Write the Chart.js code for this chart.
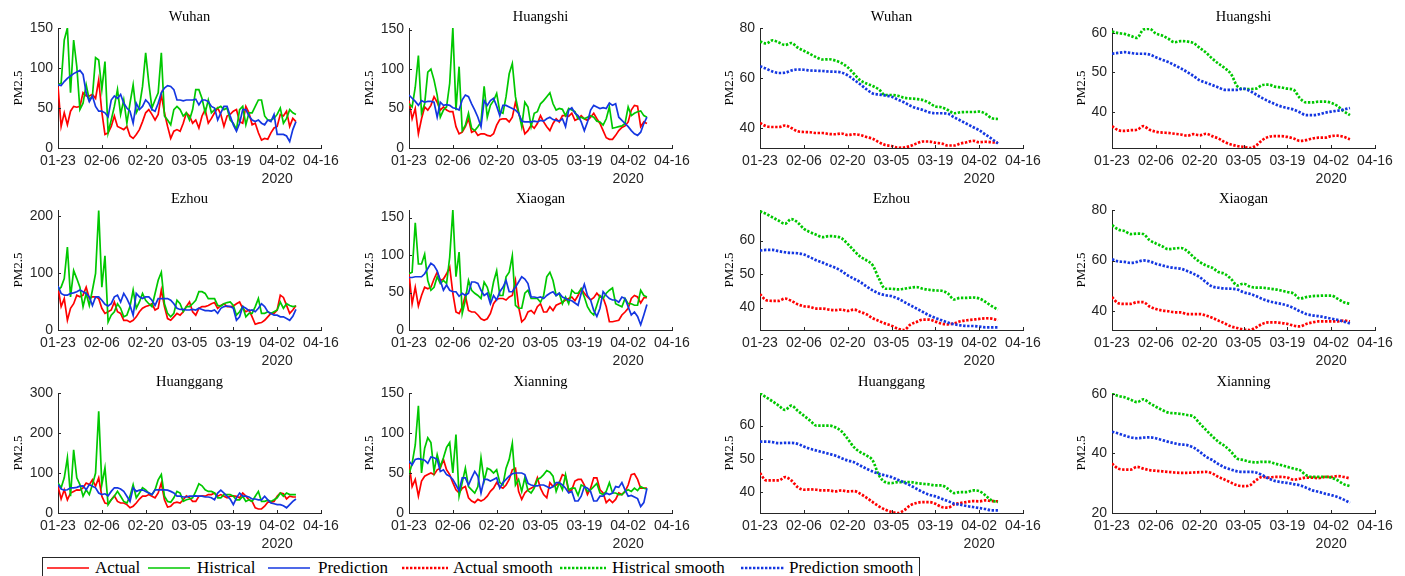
<!DOCTYPE html>
<html>
<head>
<meta charset="utf-8">
<script src="https://cdn.jsdelivr.net/npm/chart.js@4.4.1/dist/chart.umd.min.js"></script>
<style>
  html, body { margin: 0; padding: 0; background: #fff; overflow: hidden; }
  body { width: 1405px; height: 576px; position: relative; }
  canvas { position: absolute; }
  #legend { position: absolute; left: 42px; top: 557px; width: 876px; height: 26px;
            border: 1px solid #262626; font: 17px "Liberation Serif", "Times New Roman", serif; color: #000; }
  #legend span, #legend svg { position: absolute; }
  #legend span { top: 0; line-height: 20px; white-space: nowrap; }
  #legend svg { top: 7px; }
</style>
</head>
<body>
<div id="legend">
  <svg style="left:4px" width="42" height="6"><line x1="0" y1="3" x2="42" y2="3" stroke="rgb(255,0,0)" stroke-width="1.7"/></svg>
  <span style="left:52px">Actual</span>
  <svg style="left:105px" width="42" height="6"><line x1="0" y1="3" x2="42" y2="3" stroke="rgb(0,200,0)" stroke-width="1.7"/></svg>
  <span style="left:154px">Histrical</span>
  <svg style="left:225px" width="42" height="6"><line x1="0" y1="3" x2="42" y2="3" stroke="rgb(20,55,225)" stroke-width="1.7"/></svg>
  <span style="left:275px">Prediction</span>
  <svg style="left:359px" width="46" height="6"><line x1="0" y1="3" x2="46" y2="3" stroke="rgb(255,0,0)" stroke-width="2.7" stroke-dasharray="2.4 1.6"/></svg>
  <span style="left:410px">Actual smooth</span>
  <svg style="left:517px" width="46" height="6"><line x1="0" y1="3" x2="46" y2="3" stroke="rgb(0,200,0)" stroke-width="2.7" stroke-dasharray="2.4 1.6"/></svg>
  <span style="left:569px">Histrical smooth</span>
  <svg style="left:698px" width="44" height="6"><line x1="0" y1="3" x2="44" y2="3" stroke="rgb(20,55,225)" stroke-width="2.7" stroke-dasharray="2.4 1.6"/></svg>
  <span style="left:746px">Prediction smooth</span>
</div>
<script>
// x axis: days since 01-23 (2020), data runs to 04-08
const tickLabels = ['01-23', '02-06', '02-20', '03-05', '03-19', '04-02', '04-16'];
const yearLabel = '2020';
const days = [];
for (let i = 0; i <= 76; i++) days.push(i);
const smoothDays = days.filter(d => d % 2 === 0);

// ---- daily series (left two columns) ----
const wuhanActual = [77,27,44,29,46,52,51,52,69,65, 65,67,62,85,45,17,19,27,40,27, 25,23,27,15,12,17,23,33,44,48,
  42,35,42,67,44,27,12,21,23,21, 31,44,40,31,35,25,40,48,31,37, 44,50,42,27,40,42,46,48,33,31,
  52,44,29,31,19,10,12,11,19,25, 27,42,40,46,27,37,33];
const wuhanHist = [79,81,135,150,69,135,102,48,56,79, 60,65,113,110,73,108,19,35,52,73, 42,60,31,56,79,44,52,77,119,81,
  50,60,69,119,40,35,29,48,52,48, 40,44,35,48,73,73,62,44,60,44, 48,50,52,48,50,35,31,23,48,52,
  29,44,44,52,60,60,40,35,35,37, 42,50,31,37,48,44,42];
const wuhanPred = [79,78,83,87,90,93,95,97,92,69, 58,65,52,46,46,44,39,60,65,62, 67,56,50,46,31,56,48,52,60,56,
  48,46,56,69,75,78,77,73,60,60, 59,60,60,60,61,54,60,60,58,52, 50,35,44,52,52,40,29,21,31,48,
  48,40,35,33,35,31,29,35,33,42, 17,17,17,15,8,23,33];

const huangshiActual = [60,37,50,18,37,52,48,54,65,58, 48,52,48,46,46,27,18,20,27,37, 20,22,16,18,18,16,15,18,29,36,
  37,37,33,39,58,44,33,18,22,29, 25,31,41,33,27,22,31,37,33,41, 41,40,44,35,37,41,37,35,39,44,
  37,31,22,13,11,11,16,22,26,28, 33,48,54,53,27,33,31];
const huangshiHist = [56,52,77,117,44,56,96,100,86,67, 39,48,52,82,152,48,103,22,29,44, 25,22,27,33,78,39,54,60,69,46,
  44,65,94,107,65,46,27,58,52,27, 44,46,56,60,65,70,56,48,50,49, 41,50,48,46,37,39,37,39,41,39,
  34,33,29,37,52,25,26,27,28,31, 52,41,44,46,47,41,39];
const huangshiPred = [67,63,59,54,60,58,59,59,58,39, 58,54,55,54,51,50,48,61,67,65, 56,48,39,27,60,54,60,63,53,41,
  54,54,52,50,48,44,34,33,33,33, 34,33,35,34,37,39,36,35,34,37, 27,48,51,44,41,33,22,33,48,54,
  52,50,51,50,57,54,56,39,35,31, 27,22,18,16,20,31,39];

const ezhouActual = [75,41,55,17,38,46,61,58,61,75, 55,58,58,55,38,29,32,35,49,32, 29,17,17,14,17,23,32,38,41,43,
  46,35,38,70,41,20,17,23,29,26, 32,41,49,32,26,38,41,41,43,46, 48,38,43,46,41,41,42,46,49,38,
  32,35,23,10,12,13,17,23,29,29, 35,61,57,43,29,35,43];
const ezhouHist = [70,75,90,145,58,104,90,75,41,64, 43,70,99,209,75,130,14,26,32,46, 38,23,26,41,70,38,49,64,52,46,
  41,64,87,101,46,29,23,29,52,46, 32,41,41,46,52,67,67,64,55,55, 55,43,42,46,48,49,43,26,32,41,
  23,29,29,41,55,29,29,32,29,32, 35,49,38,46,43,41,42];
const ezhouPred = [77,64,61,61,64,65,67,70,67,64, 58,43,58,58,52,45,42,46,58,61, 49,64,55,43,26,64,58,55,58,58,
  52,43,55,55,55,55,52,46,38,36, 36,35,35,36,35,38,36,34,34,33, 35,29,38,41,42,41,38,17,23,41,
  38,34,35,32,38,46,41,32,29,26, 26,23,23,20,17,24,36];

const xiaoganActual = [75,35,57,32,46,57,55,57,68,77, 66,68,75,84,49,24,22,31,46,26, 24,24,20,15,13,15,22,35,41,42,
  42,40,44,46,66,31,11,15,24,26, 22,31,35,24,24,31,26,33,35,37, 40,42,44,39,46,55,49,44,40,43,
  49,44,43,31,11,11,12,13,20,24, 29,42,46,44,36,43,43];
const xiaoganHist = [75,77,143,88,88,101,66,53,57,71, 62,66,62,97,160,71,104,22,40,66, 53,49,46,42,64,57,42,64,79,46,
  46,71,77,99,33,29,29,49,53,42, 42,42,37,46,71,77,66,46,49,35, 44,35,53,49,49,55,44,31,24,20,
  33,46,42,49,53,56,35,33,31,42, 35,35,33,33,53,46,44];
const xiaoganPred = [70,70,71,71,71,75,82,89,86,79, 66,53,60,53,51,51,45,49,46,49, 64,64,62,53,46,49,35,46,40,51,
  57,66,51,51,57,64,71,68,62,44, 44,43,44,42,46,49,51,46,49,44, 42,40,39,36,33,49,61,46,40,26,
  18,29,51,46,42,40,40,37,44,42, 31,20,24,18,7,20,34];

const huanggangActual = [67,35,58,33,50,54,58,57,63,75, 71,83,67,88,42,25,23,33,43,29, 25,25,21,13,17,25,35,42,42,46,
  42,38,50,75,33,15,17,25,27,25, 33,43,38,29,29,42,43,42,46,46, 50,42,46,42,38,42,43,42,38,50,
  42,33,29,13,10,10,17,27,27,29, 42,50,48,35,42,40,40];
const huanggangHist = [75,63,88,138,42,158,88,71,42,58, 46,71,100,254,71,113,21,33,42,54, 42,29,25,42,71,38,50,63,58,50,
  46,58,83,96,42,29,27,38,54,50, 29,33,35,38,54,73,68,58,54,54, 50,38,38,46,46,46,42,33,33,42,
  29,33,29,42,54,29,29,32,29,33, 38,50,42,50,46,46,46];
const huanggangPred = [71,60,57,58,63,63,64,67,68,58, 71,67,63,50,46,48,43,54,63,63, 60,54,42,29,63,54,57,58,54,50,
  46,58,58,58,58,57,54,50,42,42, 40,40,42,42,43,42,42,40,40,38, 33,50,57,50,42,35,21,38,50,42,
  42,40,35,35,33,33,42,33,25,23, 21,21,18,13,21,29,35];

const xianningActual = [62,33,42,21,40,46,48,50,48,54, 56,67,54,48,38,29,25,31,33,19, 15,13,17,15,17,21,27,31,38,33,
  31,35,42,54,56,27,17,25,29,31, 33,44,31,23,19,38,33,35,38,48, 46,27,29,40,42,42,35,23,31,44,
  44,29,25,13,17,13,17,25,23,27, 35,48,49,42,31,31,31];
const xianningHist = [48,62,85,134,50,81,94,88,52,73, 58,69,82,88,50,98,21,38,56,33, 29,25,33,69,40,56,54,50,54,38,
  35,56,67,87,35,42,27,44,28,25, 31,42,44,48,53,51,46,27,38,29, 48,29,31,31,22,35,33,27,29,33,
  37,25,23,27,38,25,25,23,23,27, 29,27,31,28,33,31,30];
const xianningPred = [65,60,67,68,67,66,62,70,69,67, 52,54,48,46,42,35,28,44,44,35, 44,52,46,25,42,42,40,42,44,31,
  38,42,46,49,50,50,50,48,37,35, 34,34,35,35,33,31,33,38,38,35, 31,25,27,15,15,21,33,31,27,15,
  15,21,21,25,23,25,33,32,38,29, 21,22,20,18,8,13,31];

// ---- smoothed series, every second day (right two columns) ----
const wuhanActualS = [42,40.7,40.4,40.4,41,40,38.7,38.4,38.3,38, 38,37.6,37.5,37.8,37.2,37.5,37.2,36.4,35.7,34.3,
  33.2,32.8,32.1,32.2,32.8,33.8,34.6,34.6,34.1,33.8, 33,33,33.8,34.3,34.9,34.3,34.5,34.3,34.1];
const wuhanHistS = [74.6,73.8,75.1,74.2,73.2,74,72.2,70.9,69.6,68.3, 67.4,67.5,67,66,64.3,61.7,59.1,57.8,56.8,55.4,
  53.2,53.2,52.9,52.1,51.8,51.6,51.2,50.1,48.6,48.3, 47.2,45.9,46.3,46.4,46.4,46.6,45.7,43.9,43.6];
const wuhanPredS = [64.7,63.7,62.6,62,62.1,63,63.4,63.3,63,62.9, 62.8,62.6,62.5,62.2,61.1,59.3,57.5,55.5,53.8,53.4,
  53,52.5,51.4,50.3,48.9,47.9,47.2,46.3,45.9,45.9, 45.7,44.3,43,41.7,40.4,39.1,37.4,35.7,33.8];

const huangshiActualS = [36.4,35.4,35.2,35.4,35.5,36.4,35.5,35,34.8,34.7, 34.5,34.3,34,34.4,34.1,34.5,33.9,33.3,32.4,31.8,
  31.4,31.2,30.9,31.5,32.9,33.7,33.9,33.9,33.7,33.3, 32.7,32.9,33.3,33.5,33.5,33.9,34,33.7,33.1];
const huangshiHistS = [60.3,59.9,59.7,59.2,58.7,60.8,61,59.8,59.3,58.5, 57.6,57.9,57.8,57.4,56.2,55,53.5,52.2,51.1,49.6,
  46.5,45.8,45.8,45.9,46.8,46.9,46.4,46.2,45.9,45.6, 43.5,42.4,42.4,42.6,42.6,42.3,41.5,40.2,39.2];
const huangshiPredS = [54.7,54.9,55.1,54.9,54.7,54.7,54.5,53.8,53.2,52.6, 51.8,51,50.1,49.1,48,47.4,46.8,46.2,45.6,45.6,
  45.6,45.9,45.3,44.4,43.5,42.7,42,41.4,41,40.6, 39.9,39.2,39.2,39.4,39.8,40.1,40.3,40.6,41];

const ezhouActualS = [44,42.2,42,42,42.7,42,41,40.4,40.2,39.7, 39.7,39.4,39.2,39.4,39,39.4,38.7,38,36.8,36,
  35.2,34.6,33.7,33.3,34.9,35.7,36.4,36.4,35.8,35.2, 35,35.3,35.9,36.2,36.4,36.6,36.8,36.7,36.2];
const ezhouHistS = [68.7,67.9,66.9,65.9,65,66.4,65.4,63.5,62.5,61.7, 61,61.3,61.2,60.7,59,57,55.2,54.1,52.6,48.6,
  45.6,45.6,45.4,45.6,45.9,46.1,45.6,45.3,45.1,45, 44.2,42.4,42.9,42.9,43,42.7,41.7,40.4,39.4];
const ezhouPredS = [57,57.2,57.2,56.8,56.5,56.3,56.2,55.8,55,54.1, 53.4,52.6,51.9,50.9,49.6,48.6,47.6,46.3,45.1,44.2,
  43.7,43.4,42.7,41.7,40.7,39.7,38.7,37.7,36.9,36.2, 35.5,35,34.7,34.5,34.5,34.3,34.1,34.1,34.1];

const xiaoganActualS = [45.6,43.2,42.9,42.9,43.6,43.6,41.9,40.9,40.3,40, 39.6,39.6,38.9,38.9,38.9,38.3,37.4,36.3,35.2,34,
  33.4,32.8,32.6,33.6,35,35.6,35.6,35.4,35,34.3, 34,35,35.6,36,36,36,36,36.3,36];
const xiaoganHistS = [74,72.3,71.7,70.5,70.7,70.5,68.1,66.8,65.7,64.5, 64.8,65,63.8,61.5,59.5,58.1,57.2,55.5,54.8,52.8,
  50.2,50.9,49.8,49.3,49.3,49,48.7,48.2,47.6,47, 45,45.6,46,46.1,46.2,46.2,45,43.6,42.9];
const xiaoganPredS = [60.5,59.7,59.5,59.1,59.5,60.1,59.7,58.8,58.1,57.5, 57.1,56.8,55.9,54.8,53.5,51.5,49.8,49.3,49,48.9,
  48.6,47.5,46.9,46,44.9,44,43.4,42.9,42.3,41.3, 40,38.9,38.4,38.1,37.6,37.1,36.6,35.9,35.2];

const huanggangActualS = [45.7,43.5,43.5,43.5,44.5,43.5,41.5,40.7,40.8,40.7, 40.5,40.5,40.2,40.5,40.2,40.3,39.5,38.3,37,35.7,
  34.7,34,33.7,34.5,36,36.7,37,37,36.5,35.5, 35.3,36.3,36.7,37,37.3,37.2,37.5,37.3,37.2];
const huanggangHistS = [69.7,68.5,67.3,66,64.7,66,64.5,63,61.5,60, 60,60,59.5,58.3,56,53.5,52,51,49.5,45,
  43,42.7,43,43,43,42.7,42.5,42.3,42,42, 41,39.7,40,40,40.5,40.3,39,37.5,37];
const huanggangPredS = [55.2,55.2,55,54.7,54.8,54.8,54.5,53.7,53,52.5, 52,51.5,51,50.2,49.5,49,48,47,46.2,45.5,
  45,44.5,43.7,42.9,42,41,40,39.2,38.7,38, 37.3,36.5,36.2,35.8,35.5,35.2,34.9,34.5,34.5];

const xianningActualS = [36.6,34.9,34.6,34.6,35.5,34.9,34.4,34.2,34,33.8, 33.6,33.5,33.5,33.6,33.7,33.8,33.3,32.1,31.2,30.2,
  29.3,29,29.3,31,32.1,31.9,32.1,32.1,31.9,31.2, 31.5,31.9,31.9,31.7,32.1,32.1,32.4,32.1,31.6];
const xianningHistS = [60.2,59.3,58.9,58,57.2,58.2,56.9,55.7,54.6,53.7, 53.5,53.3,52.9,52.4,50.1,47.9,45.8,43.9,42.5,40.6,
  38.3,37.8,37.2,37,37.2,37.2,36.6,36.1,35.5,34.9, 34.4,32.7,32.1,32.1,32.1,31.9,31,29.7,29];
const xianningPredS = [47.3,46.7,46,45.4,45.1,45.3,45.4,45.1,44.5,43.9, 43.4,43,42.8,42,40.6,38.9,37.8,36.4,35.3,34.6,
  34,33.8,33.8,33.6,32.7,31.6,30.8,30.4,30.1,29.7, 29.3,28.5,27.6,27.1,26.5,26,25.4,24.5,23.4];

const seriesColors = ['rgb(255,0,0)', 'rgb(0,200,0)', 'rgb(20,55,225)'];
const axisColor = '#262626';

const panels = [
  {city: 'Wuhan',     col: 0, row: 0, yMin: 0, yMax: 150, yTicks: [0, 50, 100, 150], series: [wuhanActual, wuhanHist, wuhanPred]},
  {city: 'Huangshi',  col: 1, row: 0, yMin: 0, yMax: 152, yTicks: [0, 50, 100, 150], series: [huangshiActual, huangshiHist, huangshiPred]},
  {city: 'Wuhan',     col: 2, row: 0, yMin: 32, yMax: 80, yTicks: [40, 60, 80], series: [wuhanActualS, wuhanHistS, wuhanPredS], smooth: true},
  {city: 'Huangshi',  col: 3, row: 0, yMin: 30.9, yMax: 61.2, yTicks: [40, 50, 60], series: [huangshiActualS, huangshiHistS, huangshiPredS], smooth: true},
  {city: 'Ezhou',     col: 0, row: 1, yMin: 0, yMax: 210, yTicks: [0, 100, 200], series: [ezhouActual, ezhouHist, ezhouPred]},
  {city: 'Xiaogan',   col: 1, row: 1, yMin: 0, yMax: 160, yTicks: [0, 50, 100, 150], series: [xiaoganActual, xiaoganHist, xiaoganPred]},
  {city: 'Ezhou',     col: 2, row: 1, yMin: 33.3, yMax: 69.1, yTicks: [40, 50, 60], series: [ezhouActualS, ezhouHistS, ezhouPredS], smooth: true},
  {city: 'Xiaogan',   col: 3, row: 1, yMin: 32.6, yMax: 80, yTicks: [40, 60, 80], series: [xiaoganActualS, xiaoganHistS, xiaoganPredS], smooth: true},
  {city: 'Huanggang', col: 0, row: 2, yMin: 0, yMax: 300, yTicks: [0, 100, 200, 300], series: [huanggangActual, huanggangHist, huanggangPred]},
  {city: 'Xianning',  col: 1, row: 2, yMin: 0, yMax: 150, yTicks: [0, 50, 100, 150], series: [xianningActual, xianningHist, xianningPred]},
  {city: 'Huanggang', col: 2, row: 2, yMin: 33.7, yMax: 69.8, yTicks: [40, 50, 60], series: [huanggangActualS, huanggangHistS, huanggangPredS], smooth: true},
  {city: 'Xianning',  col: 3, row: 2, yMin: 20, yMax: 60.3, yTicks: [20, 40, 60], series: [xianningActualS, xianningHistS, xianningPredS], smooth: true}
];

// plot area placement on the page
const colLeft = [58, 409, 760, 1112];
const rowTop = [28, 210, 393];
const plotW = 263, plotH = 120, topSpace = 24, bottomSpace = 42;

// MATLAB look: ticks pointing inwards, title over the plot, year under the axis
const matlabAxes = {
  id: 'matlabAxes',
  afterDraw(chart, args, opts) {
    const {ctx, chartArea, scales: {x, y}} = chart;
    ctx.save();
    ctx.strokeStyle = axisColor;
    ctx.lineWidth = 1;
    ctx.beginPath();
    x.ticks.forEach(t => {
      const px = Math.round(x.getPixelForValue(t.value)) + 0.5;
      ctx.moveTo(px, chartArea.bottom);
      ctx.lineTo(px, chartArea.bottom - 3);
    });
    y.ticks.forEach(t => {
      const py = Math.round(y.getPixelForValue(t.value)) + 0.5;
      ctx.moveTo(chartArea.left, py);
      ctx.lineTo(chartArea.left + 3, py);
    });
    ctx.stroke();
    ctx.textAlign = 'center';
    ctx.textBaseline = 'middle';
    ctx.fillStyle = '#000';
    ctx.font = '14.5px "Liberation Serif", "Times New Roman", serif';
    ctx.fillText(opts.title, (chartArea.left + chartArea.right) / 2, chartArea.top - 11);
    ctx.fillStyle = axisColor;
    ctx.font = '14px "Liberation Sans", Arial, sans-serif';
    ctx.fillText(yearLabel, x.getPixelForValue(70), chartArea.bottom + 31);
    ctx.restore();
  }
};

const tickFont = {family: '"Liberation Sans", Arial, sans-serif', size: 14};

panels.forEach(p => {
  const W = p.smooth ? 40 : 49;
  const canvas = document.createElement('canvas');
  canvas.width = W * 2 + plotW;
  canvas.height = topSpace + plotH + bottomSpace;
  canvas.style.left = (colLeft[p.col] - W) + 'px';
  canvas.style.top = (rowTop[p.row] - topSpace) + 'px';
  document.body.appendChild(canvas);

  const xs = p.smooth ? smoothDays : days;
  const datasets = p.series.map((vals, i) => ({
    data: vals.map((v, j) => ({x: xs[j], y: v})),
    borderColor: seriesColors[i],
    borderWidth: p.smooth ? 2.7 : 1.7,
    borderDash: p.smooth ? [2.4, 1.6] : [],
    cubicInterpolationMode: p.smooth ? 'monotone' : 'default',
    tension: p.smooth ? 0.4 : 0,
    pointRadius: 0,
    fill: false,
    order: 3 - i
  }));

  new Chart(canvas, {
    type: 'line',
    data: {datasets: datasets},
    options: {
      responsive: false,
      animation: false,
      layout: {padding: {top: topSpace, right: W, left: 0, bottom: 0}},
      plugins: {
        legend: {display: false},
        tooltip: {enabled: false},
        matlabAxes: {title: p.city}
      },
      scales: {
        x: {
          type: 'linear', min: 0, max: 84,
          grid: {display: false, drawTicks: false},
          border: {display: true, color: axisColor, width: 1},
          ticks: {
            stepSize: 14, padding: 5, color: axisColor, font: tickFont,
            maxRotation: 0, autoSkip: false, includeBounds: false,
            callback: v => tickLabels[Math.round(v / 14)]
          },
          afterFit: s => { s.height = bottomSpace; }
        },
        y: {
          min: p.yMin, max: p.yMax,
          grid: {display: false, drawTicks: false},
          border: {display: true, color: axisColor, width: 1},
          ticks: {padding: 5, color: axisColor, font: tickFont, autoSkip: false},
          afterBuildTicks: s => { s.ticks = p.yTicks.map(v => ({value: v})); },
          title: {
            display: true, text: 'PM2.5', color: '#000',
            font: {family: '"Liberation Serif", "Times New Roman", serif', size: 13},
            padding: {top: 2, bottom: 0}
          },
          afterFit: s => { s.width = W; }
        }
      }
    },
    plugins: [matlabAxes]
  });
});
</script>
</body>
</html>
